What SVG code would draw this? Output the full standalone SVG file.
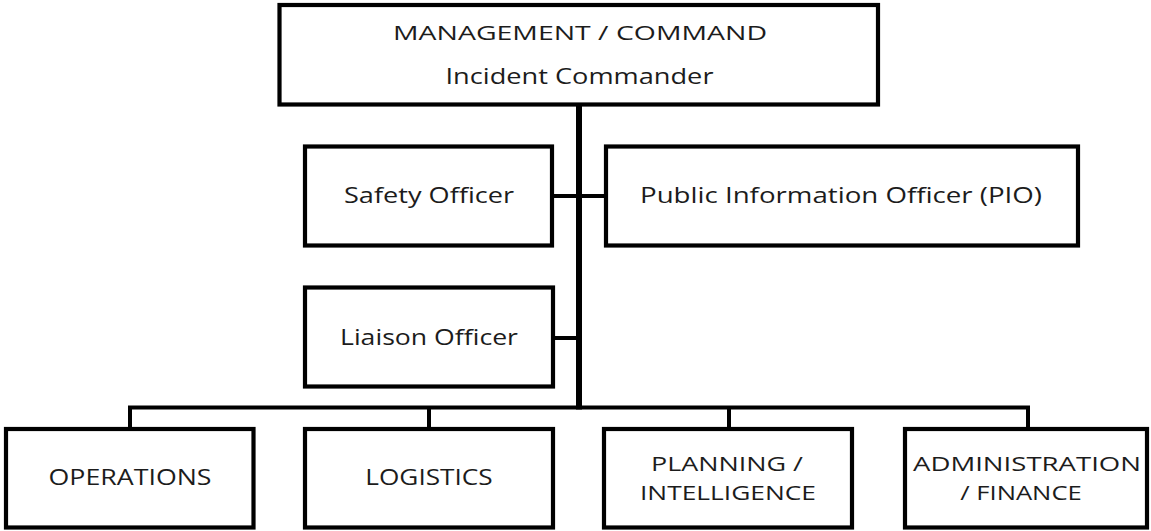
<svg xmlns="http://www.w3.org/2000/svg" width="1151" height="531" viewBox="0 0 1151 531">
  <style>
    .box { fill: #ffffff; stroke: #000000; stroke-width: 4.2; }
    .lbl { font-family: "Open Sans", "Liberation Sans", sans-serif; font-size: 22.5px; fill: #1c1c1c; text-anchor: middle; }
    .two { font-size: 20.5px; }
    .wire { stroke: #000000; fill: none; stroke-width: 4; }
  </style>
  <rect width="1151" height="531" fill="#ffffff"/>
  <g id="connectors">
    <line class="wire" x1="579" y1="104" x2="579" y2="409.5" style="stroke-width:6"/>
    <line class="wire" x1="552" y1="196" x2="606" y2="196"/>
    <line class="wire" x1="553" y1="338" x2="579" y2="338"/>
    <line class="wire" x1="128" y1="407.5" x2="1030" y2="407.5" style="stroke-width:3.8"/>
    <line class="wire" x1="130" y1="406" x2="130" y2="429"/>
    <line class="wire" x1="429" y1="406" x2="429" y2="429"/>
    <line class="wire" x1="729" y1="406" x2="729" y2="429"/>
    <line class="wire" x1="1028" y1="406" x2="1028" y2="429"/>
  </g>
  <g id="command">
    <rect class="box" x="279.5" y="5" width="598.5" height="99.5"/>
    <text class="lbl" x="580" y="40" style="font-size:20.5px" textLength="374" lengthAdjust="spacingAndGlyphs">MANAGEMENT / COMMAND</text>
    <text class="lbl" x="579.5" y="84" style="font-size:22px" textLength="268" lengthAdjust="spacingAndGlyphs">Incident Commander</text>
  </g>
  <g id="safety">
    <rect class="box" x="305" y="146.5" width="247" height="99"/>
    <text class="lbl" x="429" y="203" textLength="170" lengthAdjust="spacingAndGlyphs">Safety Officer</text>
  </g>
  <g id="pio">
    <rect class="box" x="606" y="146.5" width="472" height="99"/>
    <text class="lbl" x="841" y="203" textLength="402" lengthAdjust="spacingAndGlyphs">Public Information Officer (PIO)</text>
  </g>
  <g id="liaison">
    <rect class="box" x="305" y="287.5" width="248" height="99"/>
    <text class="lbl" x="429" y="345" textLength="178" lengthAdjust="spacingAndGlyphs">Liaison Officer</text>
  </g>
  <g id="operations">
    <rect class="box" x="6" y="429" width="247.5" height="98.5"/>
    <text class="lbl" x="130" y="485" textLength="163" lengthAdjust="spacingAndGlyphs">OPERATIONS</text>
  </g>
  <g id="logistics">
    <rect class="box" x="305" y="429" width="248" height="98.5"/>
    <text class="lbl" x="429" y="485" textLength="127.5" lengthAdjust="spacingAndGlyphs">LOGISTICS</text>
  </g>
  <g id="planning">
    <rect class="box" x="604" y="429" width="248" height="98.5"/>
    <text class="lbl two" x="727" y="471" textLength="152" lengthAdjust="spacingAndGlyphs">PLANNING /</text>
    <text class="lbl two" x="728" y="500" textLength="176" lengthAdjust="spacingAndGlyphs">INTELLIGENCE</text>
  </g>
  <g id="administration">
    <rect class="box" x="905" y="429" width="242" height="98.5"/>
    <text class="lbl two" x="1027" y="471" textLength="228" lengthAdjust="spacingAndGlyphs">ADMINISTRATION</text>
    <text class="lbl two" x="1021" y="500" textLength="121.5" lengthAdjust="spacingAndGlyphs">/ FINANCE</text>
  </g>
</svg>
